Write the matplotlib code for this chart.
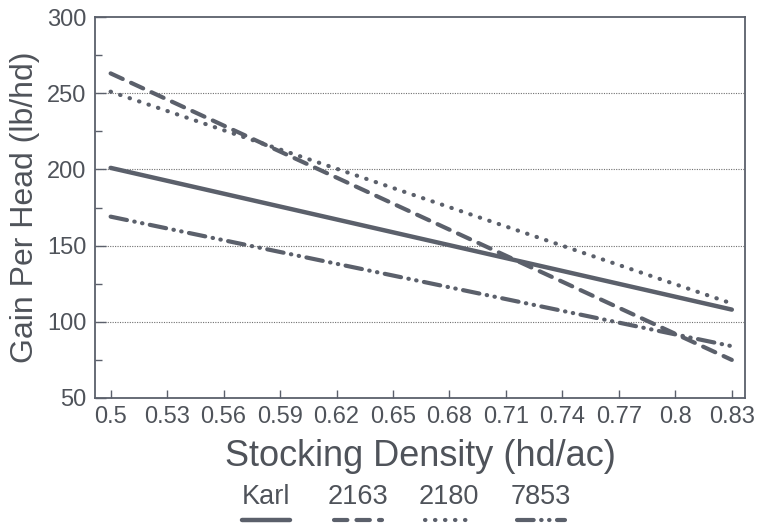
import matplotlib
matplotlib.use("Agg")
import matplotlib.pyplot as plt
from matplotlib.lines import Line2D
import numpy as np

plt.rcParams['font.family'] = ['Liberation Sans', 'DejaVu Sans']

density = [0.5, 0.83]
karl = [201, 108]
v2163 = [263, 75]
v2180 = [251, 112]
v7853 = [169, 84]
series_names = ["Karl", "2163", "2180", "7853"]
xticks = [0.5, 0.53, 0.56, 0.59, 0.62, 0.65, 0.68, 0.71, 0.74, 0.77, 0.8, 0.83]
xtick_labels = ["0.5", "0.53", "0.56", "0.59", "0.62", "0.65", "0.68", "0.71", "0.74", "0.77", "0.8", "0.83"]
yticks = [50, 100, 150, 200, 250, 300]

col = "#5b606b"
tcol = "#4f535a"
styles = [
    dict(linestyle="-", dash_capstyle="round", solid_capstyle="round"),
    dict(linestyle=(0, (3.2, 2.2)), dash_capstyle="round"),
    dict(linestyle=(0, (0.1, 2.3)), dash_capstyle="round"),
    dict(linestyle=(0, (4.0, 1.8, 0.1, 1.8, 0.1, 1.8)), dash_capstyle="round"),
]
lws = [3.2, 3.0, 3.0, 3.0]

fig = plt.figure(figsize=(7.57, 5.25), dpi=100)
ax = fig.add_axes([95/757, 1-398/525, (745-95)/757, (398-17)/525])

for ys, st, lw in zip([karl, v2163, v2180, v7853], styles, lws):
    ax.plot(density, ys, color=col, lw=lw, **st)

ax.set_xlim(0.4917, 0.837)
ax.set_ylim(50, 300)
ax.set_xticks(xticks)
ax.set_xticklabels(xtick_labels)
ax.set_yticks(yticks)
ax.set_yticks([75, 125, 175, 225, 275], minor=True)
for y in [100, 150, 200, 250]:
    ax.axhline(y, color="#707070", lw=0.8, linestyle=(0, (1, 1.2)), zorder=0)

ax.tick_params(axis="x", direction="in", length=6, width=1, colors=col, labelcolor=tcol, labelsize=17, pad=6, top=False)
ax.tick_params(axis="y", which="major", direction="in", length=8, width=1, colors=col, labelcolor=tcol, labelsize=17, pad=6, right=False)
ax.tick_params(axis="y", which="minor", direction="in", length=5, width=1, colors=col, right=False)
for s in ax.spines.values():
    s.set_color(col)
    s.set_linewidth(1.3)

ax.set_xlabel("Stocking Density (hd/ac)", fontsize=26, color=tcol, labelpad=8)
ax.set_ylabel("Gain Per Head (lb/hd)", fontsize=23, color=tcol, labelpad=5)

# legend: labels above line samples
lx = [266, 358, 449, 541]
for name, x, st, lw in zip(series_names, lx, styles, lws):
    fig.text(x/757, 1-497/525, name, fontsize=19.5, color=tcol, ha="center", va="center")
    fig.add_artist(Line2D([(x-24)/757, (x+24)/757], [1-520/525, 1-520/525],
                          transform=fig.transFigure, color=col, lw=lw, **st))

fig.savefig("out.png", dpi=100)
